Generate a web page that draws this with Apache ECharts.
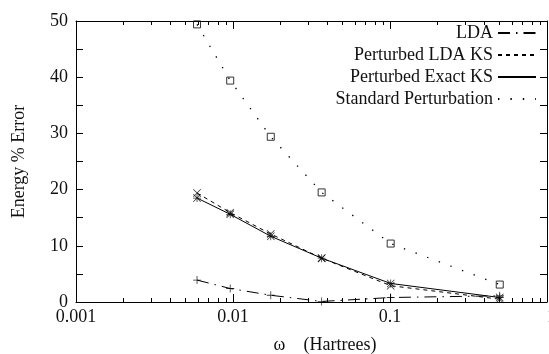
<!DOCTYPE html>
<html>
<head>
<meta charset="utf-8">
<script src="https://cdn.jsdelivr.net/npm/echarts@6/dist/echarts.min.js"></script>
<style>
  html, body { margin: 0; padding: 0; background: #fff; }
  #chart { width: 549px; height: 354px; }
</style>
</head>
<body>
<div id="chart"></div>
<script>
// omega (Hartrees) and % error of each method
const omega = [0.0059, 0.0096, 0.0174, 0.0367, 0.101, 0.50];
const lda = [3.9, 2.4, 1.2, 0.1, 0.8, 1.1];
const ldaKS = [19.4, 15.9, 12.1, 7.8, 2.9, 0.5];
const exactKS = [18.5, 15.6, 11.7, 7.8, 3.3, 0.8];
const standard = [49.4, 39.4, 29.4, 19.5, 10.4, 3.1];

const seriesNames = ['LDA', 'Perturbed LDA KS', 'Perturbed Exact KS', 'Standard Perturbation'];
const minorTicks = [0.002, 0.003, 0.004, 0.005, 0.006, 0.007, 0.008, 0.009,
  0.02, 0.03, 0.04, 0.05, 0.06, 0.07, 0.08, 0.09,
  0.2, 0.3, 0.4, 0.5, 0.6, 0.7, 0.8, 0.9];

const FONT = '"Liberation Serif", "Times New Roman", serif';
const INK = '#111';

const pts = (ys) => omega.map((x, i) => [x, ys[i]]);

// gnuplot-like point shapes
const plus = 'path://M0,4.5H10V5.5H0Z M4.5,0H5.5V10H4.5Z';
const cross = 'path://M0,0.7L0.7,0L10,9.3L9.3,10Z M9.3,0L10,0.7L0.7,10L0,9.3Z';
const star = 'path://M0,4.5H10V5.5H0Z M4.5,0H5.5V10H4.5Z M0,0.7L0.7,0L10,9.3L9.3,10Z M9.3,0L10,0.7L0.7,10L0,9.3Z';

const lineSeries = (name, data, dash, width) => ({
  name,
  type: 'line',
  data: pts(data),
  symbol: 'none',
  lineStyle: { color: '#000', width: width || 1, type: dash },
  itemStyle: { color: '#000' },
  z: 2
});

const markSeries = (data, symbol, size, style) => ({
  type: 'scatter',
  data: pts(data),
  symbol,
  symbolSize: size,
  itemStyle: style,
  z: 3
});

const xBase = {
  type: 'log',
  logBase: 10,
  min: 0.001,
  max: 1,
  splitLine: { show: false }
};

const option = {
  animation: false,
  backgroundColor: '#fff',
  grid: { left: 76, right: 2, top: 21, bottom: 52, outerBoundsMode: 'none', containLabel: false },
  legend: {
    data: seriesNames,
    orient: 'vertical',
    right: 12,
    top: 24,
    padding: 0,
    align: 'right',
    itemWidth: 38,
    itemHeight: 12,
    itemGap: 4,
    selectedMode: false,
    itemStyle: { opacity: 0 },
    textStyle: { fontFamily: FONT, fontSize: 18, color: INK }
  },
  xAxis: [
    {
      ...xBase,
      position: 'bottom',
      name: 'ω    (Hartrees)',
      nameLocation: 'middle',
      nameGap: 34,
      nameTextStyle: { fontFamily: FONT, fontSize: 18, color: INK, padding: [0, 0, 0, 27] },
      axisLine: { show: true, lineStyle: { color: '#000', width: 1 } },
      axisTick: { inside: true, length: 8, lineStyle: { color: '#000' } },
      axisLabel: { fontFamily: FONT, fontSize: 18, color: INK, margin: 6, alignMaxLabel: 'left' }
    },
    {
      ...xBase,
      position: 'bottom',
      axisLine: { show: false },
      axisTick: { inside: true, length: 4, customValues: minorTicks, lineStyle: { color: '#000' } },
      axisLabel: { show: false }
    },
    {
      ...xBase,
      position: 'top',
      axisLine: { show: true, lineStyle: { color: '#000', width: 1 } },
      axisTick: { inside: true, length: 8, lineStyle: { color: '#000' } },
      axisLabel: { show: false }
    },
    {
      ...xBase,
      position: 'top',
      axisLine: { show: false },
      axisTick: { inside: true, length: 4, customValues: minorTicks, lineStyle: { color: '#000' } },
      axisLabel: { show: false }
    }
  ],
  yAxis: [
    {
      type: 'value',
      position: 'left',
      min: 0,
      max: 50,
      interval: 5,
      name: 'Energy % Error',
      nameLocation: 'middle',
      nameGap: 48,
      nameTextStyle: { fontFamily: FONT, fontSize: 18, color: INK },
      splitLine: { show: false },
      axisLine: { show: true, lineStyle: { color: '#000', width: 1 } },
      axisTick: { inside: true, length: 7, lineStyle: { color: '#000' } },
      axisLabel: {
        fontFamily: FONT, fontSize: 18, color: INK, margin: 8,
        formatter: (v) => (v % 10 === 0 ? String(v) : '')
      }
    },
    {
      type: 'value',
      position: 'right',
      min: 0,
      max: 50,
      interval: 5,
      splitLine: { show: false },
      axisLine: { show: true, lineStyle: { color: '#000', width: 1 } },
      axisTick: { inside: true, length: 7, lineStyle: { color: '#000' } },
      axisLabel: { show: false }
    }
  ],
  series: [
    lineSeries(seriesNames[0], lda, [12, 6, 1.5, 6]),
    lineSeries(seriesNames[1], ldaKS, [4, 4]),
    lineSeries(seriesNames[2], exactKS, 'solid'),
    lineSeries(seriesNames[3], standard, [1.4, 11], 1.3),
    markSeries(lda, plus, 8, { color: '#000' }),
    markSeries(ldaKS, cross, 8, { color: '#000' }),
    markSeries(exactKS, star, 8, { color: '#000' }),
    markSeries(standard, 'rect', 7, { color: 'rgba(0,0,0,0)', borderColor: '#000', borderWidth: 1 })
  ]
};

const chart = echarts.init(document.getElementById('chart'), null, { renderer: 'canvas' });
chart.setOption(option);
</script>
</body>
</html>
